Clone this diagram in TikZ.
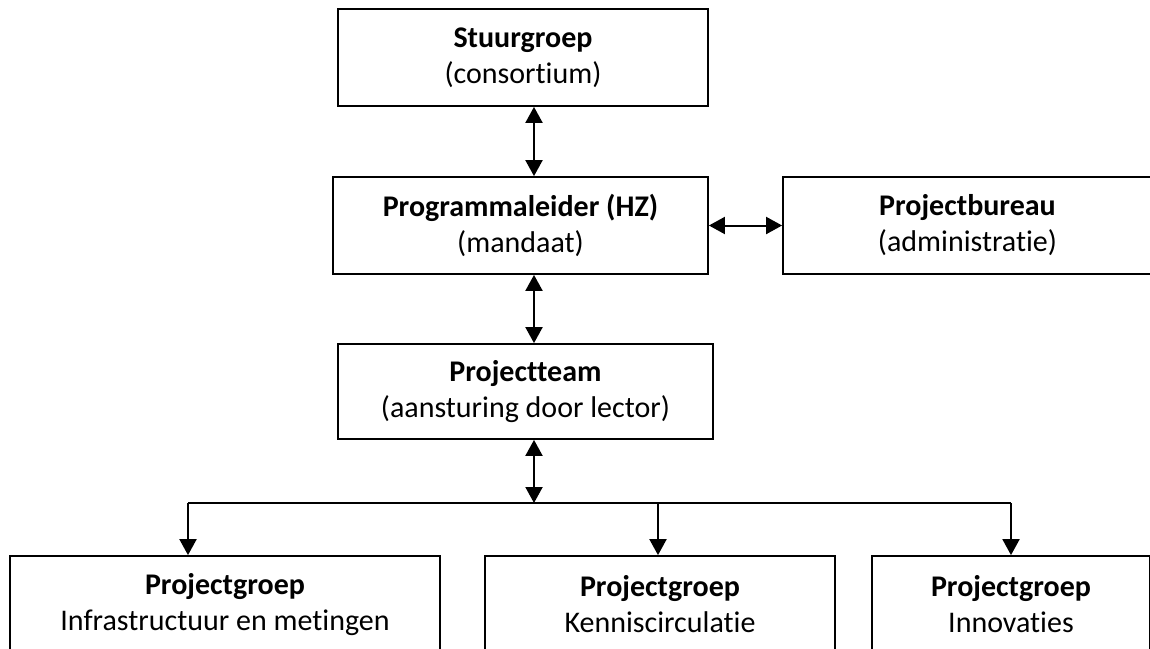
\documentclass[tikz,border=0pt]{standalone}
\usepackage{fontspec}
\setmainfont{Carlito}[Ligatures={NoCommon}]
\usepackage{tikz}
\usetikzlibrary{calc}
\usetikzlibrary{arrows.meta}

\begin{document}
\begin{tikzpicture}[x=1pt,y=-1pt,
   box/.style={draw,line width=1.8pt,rectangle,align=center,inner sep=0pt,
     font=\fontsize{30}{36}\selectfont,minimum height=97pt},
   dbl/.style={line width=2pt,{Triangle[length=16pt,width=17pt]}-{Triangle[length=16pt,width=17pt]}},
   arr/.style={line width=2pt,-{Triangle[length=16pt,width=17pt]}},
   line/.style={line width=2pt}]
\useasboundingbox (0,0) rectangle (1150,648);
% top of the organisation
\node[box,minimum width=370pt] (stuur) at (523,57.5) {\textbf{Stuurgroep}\\(consortium)};
\node[box,minimum width=375pt] (leider) at (520.5,225.5) {\textbf{Programmaleider (HZ)}\\(mandaat)};
\node[box,minimum width=369pt] (bureau) at (967.5,225.5) {\textbf{Projectbureau}\\(administratie)};
\node[box,minimum width=375pt,minimum height=95pt] (team) at (525.5,391.5) {\textbf{Projectteam}\\(aansturing door lector)};
% project groups
\node[box,minimum width=430pt] (groepA) at (225,604.5) {\textbf{Projectgroep}\\Infrastructuur en metingen};
\node[box,minimum width=350pt] (groepB) at (660,604.5) {\textbf{Projectgroep}\\Kenniscirculatie};
\node[box,minimum width=278pt] (groepC) at (1011,604.5) {\textbf{Projectgroep}\\Innovaties};
\coordinate (spine) at (534,503);
\coordinate (bA) at (188,503);
\coordinate (bB) at (658,503);
\coordinate (bC) at (1011,503);
% connectors
\draw[dbl] (stuur.south -| spine) -- (leider.north -| spine);
\draw[dbl] (leider.south -| spine) -- (team.north -| spine);
\draw[dbl] (leider.east) -- (bureau.west);
\draw[dbl] (team.south -| spine) -- (spine);
\draw[line] (bA) -- (bC);
\draw[arr] (bA) -- (bA |- groepA.north);
\draw[arr] (bB) -- (bB |- groepB.north);
\draw[arr] (bC) -- (bC |- groepC.north);
\end{tikzpicture}
\end{document}
